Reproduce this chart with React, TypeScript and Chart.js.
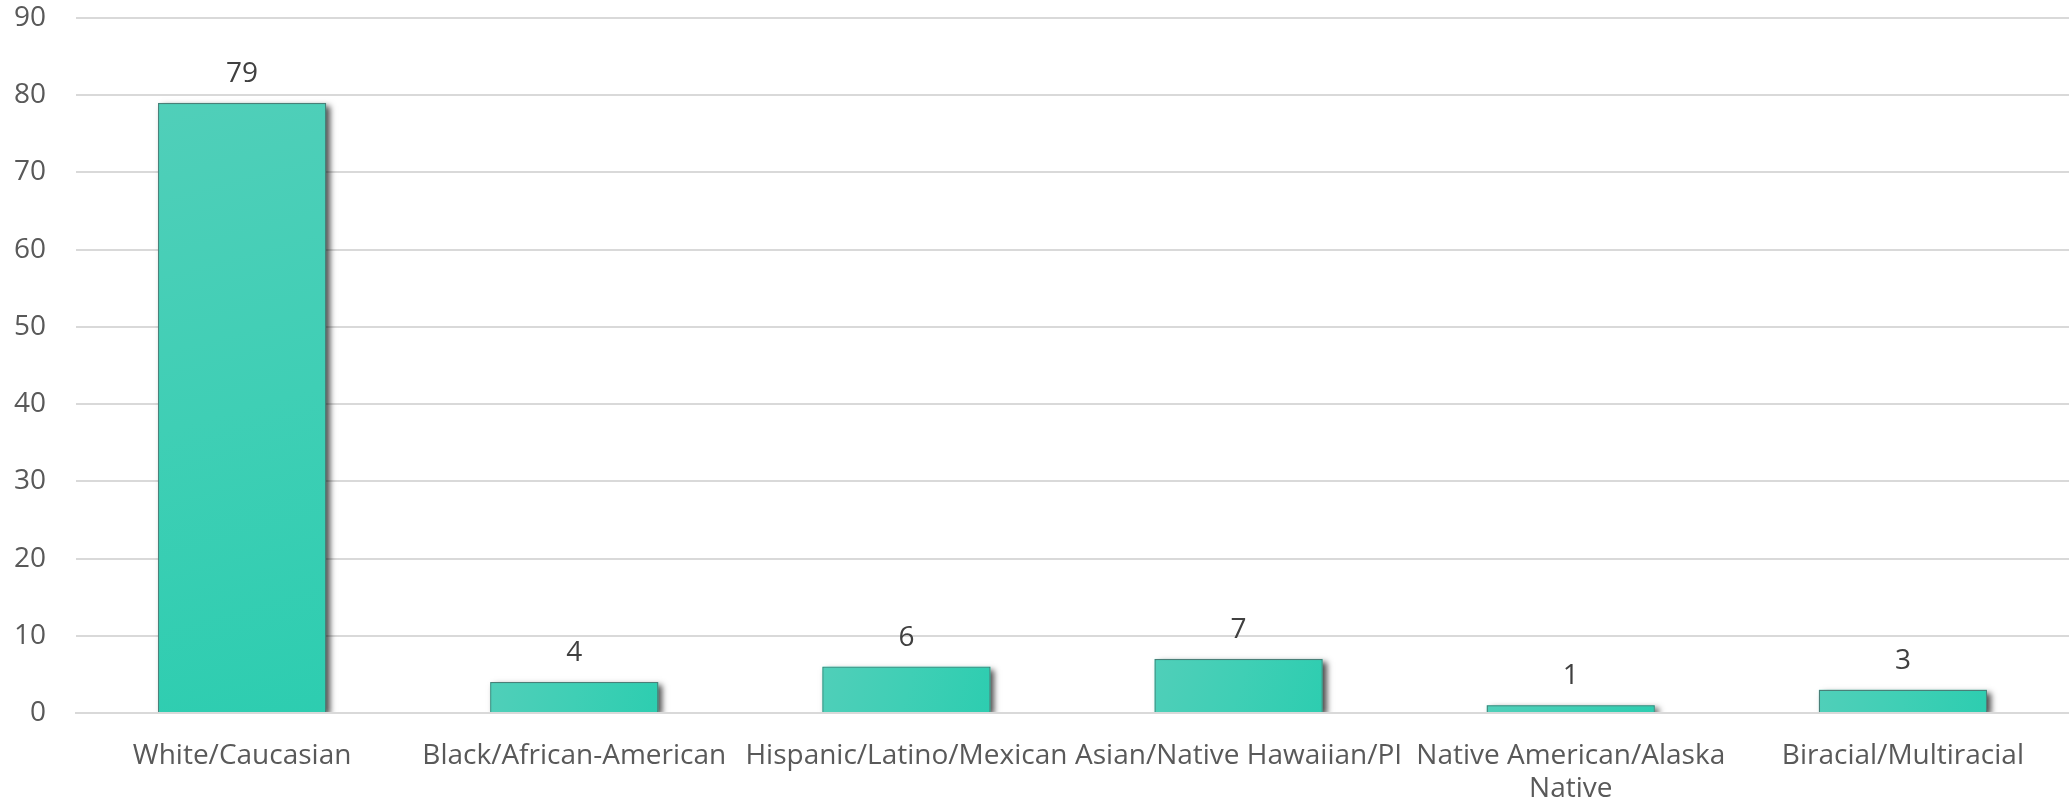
import React, { useEffect, useRef } from "react";
import { Chart, registerables } from "chart.js";

Chart.register(...registerables);

const categories: (string | string[])[] = [
  "White/Caucasian",
  "Black/African-American",
  "Hispanic/Latino/Mexican",
  "Asian/Native Hawaiian/PI",
  ["Native American/Alaska", "Native"],
  "Biracial/Multiracial",
];
const values = [79, 4, 6, 7, 1, 3];
const yMin = 0;
const yMax = 90;
const yStep = 10;

const FONT = "'Open Sans', sans-serif";
const BAR_PCT = 0.506;

const valueLabels = {
  id: "valueLabels",
  afterDatasetsDraw(chart: any) {
    const ctx = chart.ctx;
    const meta = chart.getDatasetMeta(0);
    ctx.save();
    ctx.fillStyle = "#404040";
    ctx.font = `28px ${FONT}`;
    ctx.textAlign = "center";
    ctx.textBaseline = "alphabetic";
    meta.data.forEach((el: any, i: number) => {
      ctx.fillText(String(values[i]), el.x, el.y - 21);
    });
    ctx.restore();
  },
};

const barShadow = {
  id: "barShadow",
  beforeDatasetsDraw(chart: any) {
    const ctx = chart.ctx;
    const area = chart.chartArea;
    const meta = chart.getDatasetMeta(0);
    ctx.save();
    ctx.beginPath();
    ctx.rect(area.left, area.top - 10, area.right - area.left, area.bottom - area.top + 9);
    ctx.clip();
    ctx.shadowColor = "rgba(0,0,0,0.7)";
    ctx.shadowBlur = 6;
    ctx.shadowOffsetX = 4;
    ctx.shadowOffsetY = 3;
    ctx.fillStyle = "#3ccfb3";
    meta.data.forEach((el: any) => {
      const p = el.getProps(["x", "y", "base", "width"], true);
      ctx.fillRect(p.x - p.width / 2, p.y, p.width, p.base - p.y);
    });
    ctx.restore();
  },
};

export default function App() {
  const ref = useRef<HTMLCanvasElement>(null);
  useEffect(() => {
    document.body.style.margin = "0";
    const canvas = ref.current!;
    const chart = new Chart(canvas, {
      type: "bar",
      data: {
        labels: categories,
        datasets: [
          {
            data: values,
            backgroundColor: (c: any) => {
              const ch = c.chart;
              const xs = ch.scales?.x;
              const ys = ch.scales?.y;
              if (!xs || !ys || !ch.chartArea || c.dataIndex === undefined) return "#3ccfb3";
              const cx = xs.getPixelForValue(c.dataIndex);
              const half = (xs.width / categories.length) * BAR_PCT / 2;
              const top = ys.getPixelForValue(values[c.dataIndex]);
              const base = ys.getPixelForValue(0);
              const g = ch.ctx.createLinearGradient(cx - half, top, cx + half, base);
              g.addColorStop(0, "#50cfb9");
              g.addColorStop(0.5, "#3fcfb5");
              g.addColorStop(1, "#2dcdb0");
              return g;
            },
            borderColor: "#4a7f78",
            borderWidth: 1.2,
            borderSkipped: "bottom",
            categoryPercentage: 1,
            barPercentage: BAR_PCT,
          },
        ],
      },
      options: {
        responsive: false,
        animation: false,
        maintainAspectRatio: false,
        layout: { padding: { left: 0, right: 0, top: 18, bottom: 0 } },
        plugins: {
          legend: { display: false },
          tooltip: { enabled: false },
        },
        scales: {
          x: {
            grid: { display: false, drawTicks: false },
            border: { display: true, color: "#d9d9d9", width: 2 },
            ticks: {
              color: "#595959",
              font: { family: FONT, size: 28 },
              padding: 26,
              maxRotation: 0,
              autoSkip: false,
            },
            afterFit: (s: any) => {
              s.height = 93;
              s.paddingLeft = 0;
              s.paddingRight = 0;
            },
          },
          y: {
            min: yMin,
            max: yMax,
            grid: { color: "#d9d9d9", lineWidth: 2, drawTicks: false },
            border: { display: false },
            ticks: {
              stepSize: yStep,
              color: "#595959",
              font: { family: FONT, size: 28 },
              padding: 30,
            },
            afterFit: (s: any) => {
              s.width = 76;
              s.paddingTop = 0;
              s.paddingBottom = 0;
            },
          },
        },
      },
      plugins: [barShadow, valueLabels],
    });
    return () => chart.destroy();
  }, []);
  return (
    <div style={{ width: 2069, height: 806 }}>
      <canvas ref={ref} width={2069} height={806} style={{ width: 2069, height: 806, display: "block" }} />
    </div>
  );
}
